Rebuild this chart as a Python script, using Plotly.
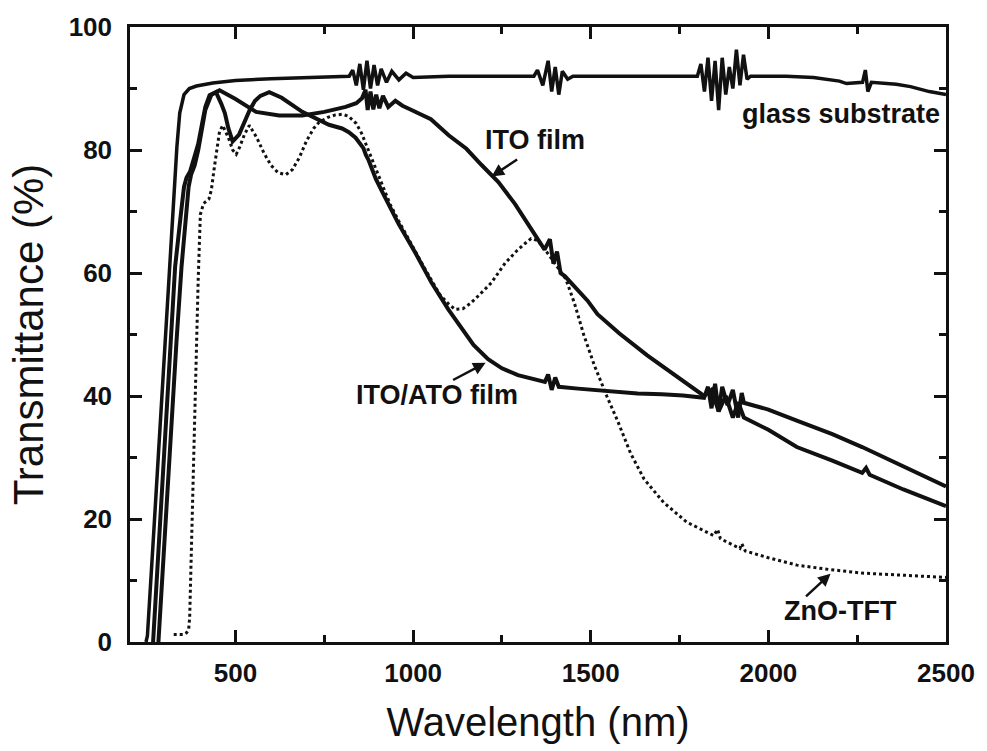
import plotly.graph_objects as go

# ---------------- data ----------------
x_ticks = [500, 1000, 1500, 2000, 2500]
x_minor = [750, 1250, 1750, 2250]
y_ticks = [0, 20, 40, 60, 80, 100]
y_minor = [10, 30, 50, 70, 90]

glass_wl = [248, 252, 270, 290, 300, 315, 325, 335, 343, 355, 370, 390, 436, 500, 600, 700, 820,
            830, 840, 850, 860, 870, 880, 890, 900, 910, 925, 940, 960, 980, 1000,
            1100, 1200, 1340, 1350, 1365, 1380, 1390, 1400, 1410, 1420, 1435, 1450,
            1600, 1800, 1810, 1820, 1830, 1840, 1850, 1860, 1870, 1880, 1890, 1900, 1910, 1920, 1930, 1940, 1950,
            2050, 2127, 2200, 2220, 2265, 2273, 2280, 2290, 2360, 2400, 2453, 2500]
glass_t = [0, 1, 18, 37, 47, 62, 72, 80.5, 86, 89, 90, 90.4, 90.9, 91.3, 91.6, 91.8, 92,
           93, 90.5, 94, 89.8, 94.5, 90, 93.8, 90.5, 93.2, 91, 92.8, 91.4, 92.5, 91.8,
           92, 92, 92, 93, 90.5, 94.5, 89.5, 93.5, 89, 92.8, 91.5, 92,
           92, 92, 94, 89.5, 95, 88, 94.5, 86.5, 95, 89, 93.5, 90, 96.3, 90.5, 95.5, 91.5, 92,
           92, 91.8, 91.2, 90.8, 91, 93, 89.5, 91, 90.7, 90.3, 89.5, 89]

ito_wl = [283, 295, 307, 320, 334, 348, 362, 368, 375, 385, 395, 405, 415, 432, 455,
          500, 558, 623, 688, 750, 810, 840, 856,
          866, 872, 880, 888, 896, 905, 915, 930, 950, 970, 988,
          1050, 1100, 1150, 1192, 1240, 1287, 1351, 1370, 1385, 1395, 1405, 1415, 1427,
          1491, 1519, 1580, 1659, 1740, 1819,
          1840, 1860, 1880, 1900, 1915, 1931, 2000, 2080, 2180, 2264, 2275, 2285, 2380, 2500]
ito_t = [0, 12, 24, 36, 49, 61, 70, 74, 76, 77.5, 80, 83.5, 86.5, 89, 89.7,
         88.3, 86.2, 85.6, 85.6, 86.2, 87, 87.6, 88.4,
         89.8, 86.5, 89.5, 86.6, 89, 86.8, 88.8, 87, 88, 87.2, 86.7,
         85, 82.4, 80.2, 77.6, 74.8, 71.2, 65.3, 63.8, 65.5, 61.5, 63.5, 60, 59.5,
         55.5, 53.3, 50.2, 46.6, 43.2, 40,
         41, 37.5, 40, 36.5, 39, 36.5, 34.5, 31.7, 29.5, 27.5, 28.3, 27.2, 24.8, 22.1]

itoato_wl = [268, 280, 292, 305, 317, 330, 347, 355, 362, 372, 385, 395, 405, 415, 427, 445,
             460, 470, 480, 492, 510, 525, 540, 555, 570, 595, 630, 688, 763, 800, 819, 838,
             850, 860, 867, 875, 885, 895, 912, 959, 1007, 1052, 1099, 1136, 1170, 1211, 1250,
             1295, 1340, 1371, 1380, 1390, 1400, 1410, 1464, 1550, 1632, 1700, 1760, 1819,
             1830, 1840, 1850, 1860, 1870, 1885, 1900, 1915, 1925, 1931,
             2000, 2080, 2180, 2264, 2380, 2500]
itoato_t = [0, 12, 24, 36, 49, 61, 70, 74, 75.5, 76.5, 79, 81, 84, 87, 88.9, 89.4,
            87.5, 86, 83.5, 81.4, 82.5, 84.5, 86.5, 88, 88.8, 89.4, 88.5, 86.2, 84.1, 83.5, 82.9, 82,
            81.2, 80.3, 79.2, 78.3, 76.8, 75.3, 73.3, 68, 63.2, 58.4, 54.1, 51, 48.3, 46, 44.5,
            43.4, 42.7, 42.3, 43.5, 41, 43, 41.5, 41.2, 40.8, 40.4, 40.3, 40.1, 39.7,
            41.5, 38, 42, 37.5, 41.5, 38.5, 41, 36.5, 40.5, 38.9,
            37.8, 36, 33.8, 31.7, 28.5, 25.3]

zno_wl = [326, 352, 362, 368, 371, 375, 380, 385, 390, 395, 401, 410, 425, 432, 440, 448, 455, 464, 480,
          492, 502, 512, 525, 539, 560, 580, 600, 620, 642, 660, 680, 700, 720, 735, 760, 781, 800, 818, 840,
          855, 870, 890, 912, 935, 959, 985, 1007, 1030, 1052, 1075, 1099, 1118, 1140, 1160, 1184, 1220, 1259,
          1290, 1315, 1332, 1350, 1375, 1400, 1430, 1454, 1480, 1510, 1545, 1576, 1612, 1650, 1705, 1770,
          1846, 1857, 1865, 1920, 1925, 1935, 2000, 2080, 2170, 2264, 2380, 2500]
zno_t = [1.2, 1.2, 1.5, 2, 4, 14, 25, 37, 48, 59, 69.5, 71.3, 72, 73.5, 77, 80.5, 83, 84, 82,
         80, 79.3, 80.5, 82.5, 84, 82, 79.5, 77.5, 76.3, 76, 76.8, 78.8, 81.5, 83.5, 84.5, 85.3, 85.7, 85.8, 85.5, 84.3,
         82.7, 80.5, 77.5, 74.3, 71.2, 68.5, 65.7, 63.5, 61, 58.8, 56.5, 55, 54.1, 54.2, 55, 56.3, 58.4, 61.6,
         63.5, 64.8, 65.6, 65.3, 63.5, 61.5, 59, 55.1, 50, 45, 40, 35.9, 30.7, 26.5, 22.7, 19.5,
         17.3, 18.3, 16.8, 15.2, 16, 14.8, 13.7, 12.5, 11.8, 11.2, 10.8, 10.5]

# labels: (text, wavelength, transmittance)
labels = [("glass substrate", 2205, 85.8),
          ("ITO film", 1344, 81.6),
          ("ITO/ATO film", 1067, 40.1),
          ("ZnO-TFT", 2203, 5.0)]
# arrows: (head wavelength, head transmittance, tail dx px, tail dy px)
arrows = [(1221, 75.7, 27, -18),
          (1204, 45.4, -34, 18),
          (2175, 11.1, -26, 24)]

assert len(glass_wl) == len(glass_t)
assert len(ito_wl) == len(ito_t)
assert len(itoato_wl) == len(itoato_t)
assert len(zno_wl) == len(zno_t)

FONT = "Liberation Sans, Arial, Helvetica, sans-serif"
INK = "#111111"

fig = go.Figure()
fig.add_trace(go.Scatter(x=glass_wl, y=glass_t, mode="lines", name="glass substrate",
                         line=dict(color=INK, width=3.5)))
fig.add_trace(go.Scatter(x=itoato_wl, y=itoato_t, mode="lines", name="ITO/ATO film",
                         line=dict(color=INK, width=4)))
fig.add_trace(go.Scatter(x=ito_wl, y=ito_t, mode="lines", name="ITO film",
                         line=dict(color=INK, width=4)))
fig.add_trace(go.Scatter(x=zno_wl, y=zno_t, mode="lines", name="ZnO-TFT",
                         line=dict(color=INK, width=3, dash="dot")))

annots = []
for text, x, y in labels:
    annots.append(dict(x=x, y=y, xref="x", yref="y", text=text, showarrow=False,
                       font=dict(family=FONT, size=27, color=INK, weight="bold")))
for x, y, dx, dy in arrows:
    annots.append(dict(x=x, y=y, xref="x", yref="y", text="", showarrow=True,
                       ax=dx, ay=dy, arrowhead=2, arrowsize=1, arrowwidth=2.5, arrowcolor=INK))

axis_common = dict(ticks="inside", ticklen=12, tickwidth=2.5, tickcolor=INK,
                   showline=True, linewidth=2.5, linecolor=INK, mirror="ticks",
                   showgrid=False, zeroline=False,
                   tickfont=dict(family=FONT, size=26, color=INK, weight="bold"))

fig.update_layout(
    width=987, height=751,
    margin=dict(l=130, r=37, t=21, b=109),
    plot_bgcolor="white", paper_bgcolor="white",
    showlegend=False,
    font=dict(family=FONT, color=INK),
    xaxis=dict(range=[203, 2500], tickmode="array", tickvals=x_ticks,
               minor=dict(tickmode="array", tickvals=x_minor, ticks="inside", ticklen=7,
                          tickwidth=2.5, tickcolor=INK),
               ticklabelstandoff=6,
               title=dict(text="Wavelength (nm)", font=dict(family=FONT, size=40, color=INK), standoff=22),
               **axis_common),
    yaxis=dict(range=[0, 100], tickmode="array", tickvals=y_ticks,
               minor=dict(tickmode="array", tickvals=y_minor, ticks="inside", ticklen=7,
                          tickwidth=2.5, tickcolor=INK),
               ticklabelstandoff=10,
               title=dict(text="Transmittance (%)", font=dict(family=FONT, size=42, color=INK), standoff=12),
               **axis_common),
    annotations=annots,
)

fig.write_html("out.html")
